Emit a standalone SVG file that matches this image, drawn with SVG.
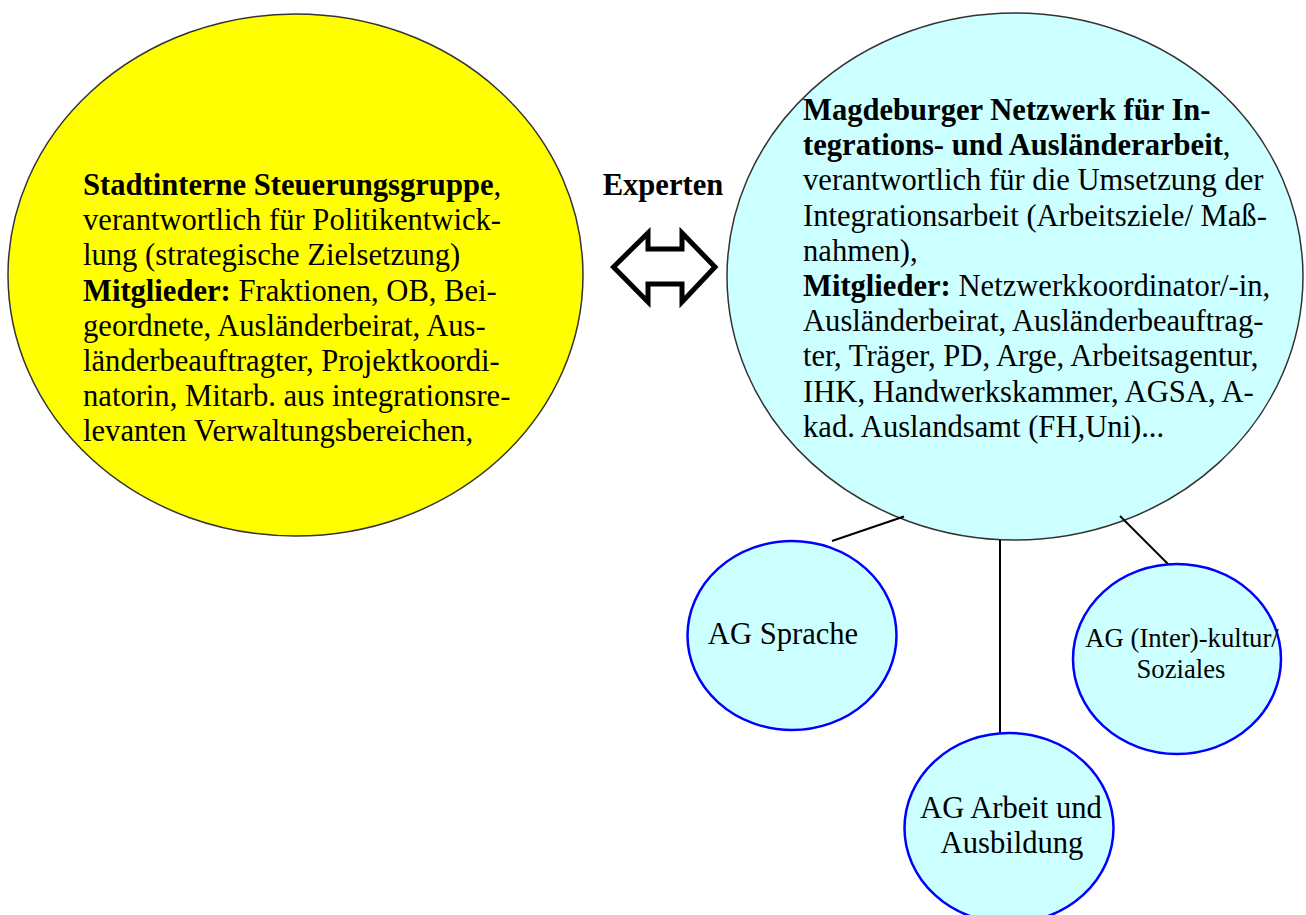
<svg xmlns="http://www.w3.org/2000/svg" width="1306" height="915" viewBox="0 0 1306 915">
<style>
.t{font-family:"Liberation Serif","Times New Roman",serif;font-size:30.6px;fill:#000}
.s{font-family:"Liberation Serif","Times New Roman",serif;font-size:26.7px;fill:#000}
.b{font-weight:bold}
.big{stroke:#333;stroke-width:1.5}
.ag{fill:#CCFFFF;stroke:#0000FF;stroke-width:2.5}
.con{stroke:#000;stroke-width:2;fill:none}
</style>
<rect width="1306" height="915" fill="#fff"/>
<g id="steuerungsgruppe">
<ellipse class="big" cx="295.5" cy="275" rx="287.5" ry="261" fill="#FFFF00"/>
<text class="t" x="83" y="195"><tspan class="b">Stadtinterne Steuerungsgruppe</tspan>,</text>
<text class="t" x="83" y="230.2">verantwortlich für Politikentwick-</text>
<text class="t" x="83" y="265.4">lung (strategische Zielsetzung)</text>
<text class="t" x="83" y="300.6"><tspan class="b">Mitglieder:</tspan> Fraktionen, OB, Bei-</text>
<text class="t" x="83" y="335.8">geordnete, Ausländerbeirat, Aus-</text>
<text class="t" x="83" y="371">länderbeauftragter, Projektkoordi-</text>
<text class="t" x="83" y="406.2">natorin, Mitarb. aus integrationsre-</text>
<text class="t" x="83" y="441.4">levanten Verwaltungsbereichen,</text>
</g>
<g id="experten">
<text class="t b" x="663" y="195" text-anchor="middle">Experten</text>
<polygon points="613.5,267 648,233 648,249 682,249 682,233 715,267 682,302 682,284 648,284 648,302" fill="#fff" stroke="#000" stroke-width="5" stroke-linejoin="miter"/>
</g>
<g id="netzwerk">
<ellipse class="big" cx="1015" cy="276.5" rx="288" ry="263.5" fill="#CCFFFF"/>
<text class="t b" x="803" y="120">Magdeburger Netzwerk für In-</text>
<text class="t" x="803" y="155.2"><tspan class="b">tegrations- und Ausländerarbeit</tspan>,</text>
<text class="t" x="803" y="190.4">verantwortlich für die Umsetzung der</text>
<text class="t" x="803" y="225.6">Integrationsarbeit (Arbeitsziele/ Maß-</text>
<text class="t" x="803" y="260.8">nahmen),</text>
<text class="t" x="803" y="296"><tspan class="b">Mitglieder:</tspan> Netzwerkkoordinator/-in,</text>
<text class="t" x="803" y="331.2">Ausländerbeirat, Ausländerbeauftrag-</text>
<text class="t" x="803" y="366.4">ter, Träger, PD, Arge, Arbeitsagentur,</text>
<text class="t" x="803" y="401.6">IHK, Handwerkskammer, AGSA, A-</text>
<text class="t" x="803" y="436.8">kad. Auslandsamt (FH,Uni)...</text>
</g>
<g id="connectors">
<line class="con" x1="832" y1="541" x2="904" y2="516.5"/>
<line class="con" x1="1000" y1="540" x2="1000" y2="733"/>
<line class="con" x1="1120" y1="516" x2="1168" y2="564"/>
</g>
<g id="ag-sprache">
<ellipse class="ag" cx="792" cy="635.5" rx="104.5" ry="94.5"/>
<text class="t" x="783" y="643.5" text-anchor="middle">AG Sprache</text>
</g>
<g id="ag-kultur">
<ellipse class="ag" cx="1177" cy="659" rx="104" ry="95"/>
<text class="s" x="1182" y="647" text-anchor="middle">AG (Inter)-kultur/</text>
<text class="s" x="1181" y="677.7" text-anchor="middle">Soziales</text>
</g>
<g id="ag-arbeit">
<ellipse class="ag" cx="1009" cy="828" rx="104.5" ry="95"/>
<text class="t" x="1011" y="818" text-anchor="middle">AG Arbeit und</text>
<text class="t" x="1012" y="853.2" text-anchor="middle">Ausbildung</text>
</g>
</svg>
